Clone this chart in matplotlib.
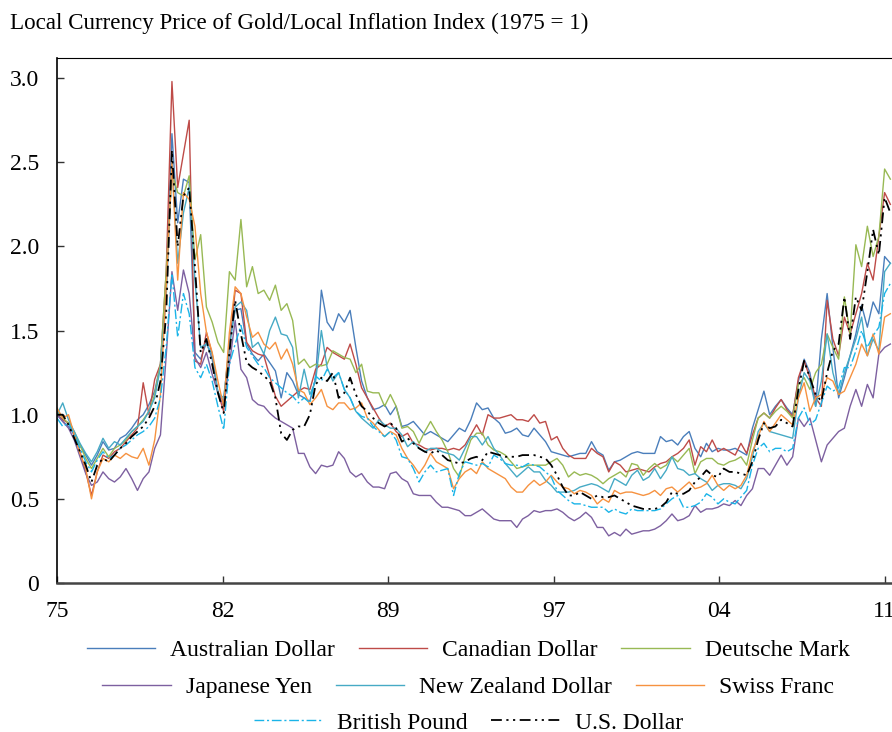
# -*- coding: utf-8 -*-

import numpy as np
from matplotlib import pyplot as plt

plt.rcParams['font.family'] = ['Liberation Serif', 'DejaVu Serif']

# quarterly observations, 1975Q1 .. 2011Q2
dates = 1975 + np.arange(146) / 4.0

aud = [1.00, 0.96, 0.93, 0.88, 0.82, 0.76, 0.70, 0.76, 0.84, 0.79,
       0.80, 0.86, 0.88, 0.92, 0.97, 1.00, 1.06, 1.14, 1.30, 1.75,
       2.67, 2.14, 2.40, 2.38, 1.37, 1.33, 1.43, 1.33, 1.13, 1.08,
       1.43, 1.62, 1.63, 1.42, 1.36, 1.32, 1.36, 1.31, 1.26, 1.10,
       1.25, 1.20, 1.12, 1.10, 1.08, 1.22, 1.74, 1.55, 1.50, 1.60,
       1.55, 1.62, 1.40, 1.20, 1.10, 1.03, 1.04, 1.06, 1.00, 1.05,
       0.93, 0.94, 0.96, 0.92, 0.88, 0.90, 0.88, 0.86, 0.84, 0.88,
       0.92, 0.90, 0.97, 1.07, 1.03, 1.04, 0.98, 0.95, 0.89, 0.90,
       0.92, 0.88, 0.87, 0.92, 0.88, 0.84, 0.78, 0.77, 0.76, 0.75,
       0.76, 0.77, 0.77, 0.84, 0.78, 0.76, 0.67, 0.72, 0.73, 0.75,
       0.77, 0.78, 0.77, 0.77, 0.77, 0.87, 0.84, 0.85, 0.82, 0.87,
       0.90, 0.80, 0.75, 0.83, 0.78, 0.80, 0.79, 0.79, 0.80, 0.78,
       0.76, 0.92, 1.03, 1.14, 1.00, 1.05, 1.09, 1.04, 1.00, 1.20,
       1.33, 1.25, 1.05, 1.45, 1.72, 1.40, 1.10, 1.22, 1.35, 1.48,
       1.65, 1.52, 1.67, 1.60, 1.94, 1.90]

cad = [1.00, 0.97, 0.95, 0.88, 0.78, 0.66, 0.52, 0.66, 0.76, 0.74,
       0.78, 0.80, 0.84, 0.88, 0.92, 1.19, 1.00, 1.21, 1.30, 1.85,
       2.98, 2.35, 2.55, 2.75, 1.32, 1.30, 1.49, 1.36, 1.13, 1.02,
       1.40, 1.74, 1.72, 1.43, 1.38, 1.36, 1.35, 1.23, 1.11, 1.05,
       1.08, 1.11, 1.14, 1.16, 1.15, 1.27, 1.30, 1.40, 1.37, 1.35,
       1.33, 1.42, 1.30, 1.16, 1.10, 1.04, 0.98, 0.93, 0.95, 0.90,
       0.87, 0.89, 0.83, 0.82, 0.80, 0.79, 0.80, 0.80, 0.79, 0.80,
       0.79, 0.82, 0.88, 0.94, 0.88, 1.00, 0.98, 0.98, 0.99, 1.00,
       0.97, 0.97, 0.96, 1.00, 0.95, 0.96, 0.85, 0.87, 0.80, 0.76,
       0.74, 0.74, 0.74, 0.80, 0.77, 0.75, 0.66, 0.72, 0.70, 0.66,
       0.67, 0.68, 0.67, 0.66, 0.69, 0.71, 0.72, 0.75, 0.77, 0.80,
       0.85, 0.70, 0.81, 0.78, 0.85, 0.78, 0.80, 0.78, 0.76, 0.83,
       0.77, 0.88, 0.98, 1.01, 0.98, 1.04, 1.09, 1.03, 0.99, 1.22,
       1.32, 1.22, 1.10, 1.05, 1.68, 1.45, 1.35, 1.58, 1.48, 1.60,
       1.72, 1.90, 1.80, 2.06, 2.32, 2.25]

dem = [1.02, 0.98, 0.95, 0.90, 0.82, 0.74, 0.68, 0.74, 0.80, 0.75,
       0.80, 0.82, 0.85, 0.90, 0.93, 0.97, 1.02, 1.12, 1.30, 1.85,
       2.44, 2.32, 2.30, 2.42, 1.92, 2.07, 1.64, 1.55, 1.43, 1.37,
       1.85, 1.80, 2.16, 1.76, 1.88, 1.72, 1.74, 1.68, 1.77, 1.62,
       1.66, 1.56, 1.30, 1.33, 1.28, 1.30, 1.29, 1.30, 1.38, 1.36,
       1.34, 1.33, 1.25, 1.30, 1.14, 1.13, 1.13, 1.05, 1.12, 1.05,
       0.92, 0.93, 0.90, 0.83, 0.90, 0.96, 0.90, 0.85, 0.78, 0.68,
       0.63, 0.75, 0.85, 0.89, 0.89, 0.82, 0.79, 0.78, 0.76, 0.72,
       0.68, 0.69, 0.70, 0.70, 0.70, 0.70, 0.72, 0.74, 0.70, 0.63,
       0.66, 0.64, 0.65, 0.64, 0.62, 0.59, 0.62, 0.64, 0.66, 0.63,
       0.71, 0.70, 0.64, 0.68, 0.71, 0.68, 0.70, 0.75, 0.72, 0.76,
       0.80, 0.65, 0.72, 0.74, 0.74, 0.71, 0.70, 0.72, 0.73, 0.75,
       0.70, 0.85, 0.98, 1.01, 0.98, 1.02, 1.05, 1.02, 0.98, 1.18,
       1.22, 1.15, 1.25, 1.30, 1.48, 1.40, 1.33, 1.70, 1.48, 2.01,
       1.88, 2.12, 1.94, 2.06, 2.46, 2.40]

jpy = [1.00, 0.96, 0.92, 0.85, 0.75, 0.65, 0.58, 0.60, 0.66, 0.62,
       0.60, 0.63, 0.68, 0.62, 0.55, 0.62, 0.66, 0.80, 0.88, 1.35,
       1.85, 1.62, 1.86, 1.72, 1.34, 1.28, 1.37, 1.24, 1.13, 1.05,
       1.30, 1.56, 1.27, 1.22, 1.09, 1.06, 1.05, 1.01, 0.98, 0.96,
       0.94, 0.92, 0.77, 0.77, 0.69, 0.65, 0.70, 0.69, 0.70, 0.78,
       0.74, 0.66, 0.63, 0.65, 0.60, 0.57, 0.57, 0.56, 0.65, 0.66,
       0.62, 0.60, 0.53, 0.52, 0.52, 0.52, 0.48, 0.45, 0.45, 0.44,
       0.43, 0.40, 0.40, 0.42, 0.44, 0.41, 0.38, 0.37, 0.37, 0.37,
       0.33, 0.38, 0.40, 0.43, 0.42, 0.43, 0.43, 0.44, 0.42, 0.39,
       0.37, 0.39, 0.42, 0.39, 0.33, 0.33, 0.28, 0.30, 0.28, 0.32,
       0.29, 0.30, 0.31, 0.31, 0.32, 0.34, 0.37, 0.41, 0.37, 0.38,
       0.40, 0.46, 0.42, 0.44, 0.44, 0.45, 0.47, 0.46, 0.49, 0.46,
       0.52, 0.56, 0.68, 0.68, 0.64, 0.70, 0.76, 0.70, 0.75, 0.98,
       0.93, 0.98, 0.85, 0.72, 0.82, 0.86, 0.90, 0.92, 1.05, 1.15,
       1.05, 1.18, 1.10, 1.36, 1.40, 1.42]

nzd = [1.00, 1.07, 0.97, 0.90, 0.83, 0.77, 0.72, 0.78, 0.86, 0.80,
       0.84, 0.82, 0.86, 0.90, 0.93, 0.96, 1.02, 1.10, 1.28, 1.70,
       2.50, 1.90, 2.20, 2.35, 1.80, 1.40, 1.42, 1.36, 1.13, 1.10,
       1.40, 1.64, 1.67, 1.62, 1.40, 1.43, 1.36, 1.50, 1.58, 1.48,
       1.47, 1.40, 1.10, 1.27, 1.12, 1.20, 1.50, 1.28, 1.20, 1.25,
       1.15, 1.10, 1.02, 0.98, 0.95, 0.92, 0.97, 0.94, 0.92, 0.92,
       0.88, 0.81, 0.84, 0.80, 0.78, 0.80, 0.80, 0.78, 0.77, 0.76,
       0.73, 0.80, 0.87, 0.87, 0.82, 0.87, 0.80, 0.76, 0.71, 0.67,
       0.63, 0.66, 0.69, 0.66, 0.66, 0.61, 0.58, 0.54, 0.54, 0.54,
       0.55, 0.57, 0.58, 0.59, 0.58, 0.56, 0.54, 0.62, 0.60, 0.58,
       0.64, 0.67, 0.61, 0.63, 0.68, 0.62, 0.67, 0.75, 0.68, 0.67,
       0.64, 0.65, 0.62, 0.60, 0.55, 0.58, 0.59, 0.59, 0.58, 0.56,
       0.62, 0.75, 0.90, 0.95, 0.90, 0.89, 0.88, 0.87, 0.86, 1.10,
       1.25, 1.20, 1.05, 1.20, 1.48, 1.25, 1.12, 1.25, 1.35, 1.45,
       1.58, 1.35, 1.45, 1.38, 1.85, 1.90]

chf = [1.04, 0.98, 1.00, 0.88, 0.77, 0.68, 0.50, 0.66, 0.74, 0.72,
       0.76, 0.74, 0.77, 0.75, 0.74, 0.80, 0.70, 0.85, 1.12, 1.75,
       2.50, 1.80, 2.32, 2.28, 2.12, 1.72, 1.49, 1.37, 1.20, 1.05,
       1.49, 1.76, 1.72, 1.58, 1.46, 1.49, 1.42, 1.39, 1.43, 1.33,
       1.39, 1.30, 1.15, 1.13, 1.06, 1.10, 1.15, 1.05, 1.03, 1.07,
       1.07, 1.03, 1.04, 1.07, 0.98, 0.95, 0.91, 0.87, 0.90, 0.88,
       0.80, 0.74, 0.70, 0.65, 0.70, 0.77, 0.72, 0.70, 0.68, 0.56,
       0.62, 0.66, 0.68, 0.65, 0.72, 0.68, 0.66, 0.64, 0.62, 0.57,
       0.54, 0.54, 0.58, 0.61, 0.58, 0.60, 0.64, 0.60, 0.57, 0.56,
       0.53, 0.55, 0.54, 0.52, 0.47, 0.50, 0.48, 0.55, 0.53, 0.54,
       0.54, 0.53, 0.52, 0.53, 0.55, 0.52, 0.56, 0.57, 0.54, 0.57,
       0.60, 0.56, 0.57, 0.59, 0.64, 0.58, 0.55, 0.58, 0.56, 0.58,
       0.64, 0.78, 0.87, 0.96, 0.90, 0.95, 1.00, 0.97, 0.94, 1.10,
       1.19, 1.02, 1.10, 1.12, 1.22, 1.20, 1.12, 1.14, 1.22, 1.30,
       1.42, 1.35, 1.48, 1.36, 1.58, 1.60]

gbp = [0.98, 0.93, 0.95, 0.88, 0.80, 0.72, 0.66, 0.73, 0.78, 0.74,
       0.76, 0.80, 0.82, 0.85, 0.88, 0.90, 0.93, 0.98, 1.10, 1.40,
       1.84, 1.46, 1.72, 1.60, 1.28, 1.22, 1.30, 1.20, 1.05, 0.91,
       1.30, 1.42, 1.53, 1.40, 1.35, 1.30, 1.28, 1.22, 1.19, 1.16,
       1.13, 1.11, 1.07, 1.10, 1.07, 1.23, 1.20, 1.27, 1.22, 1.25,
       1.15, 1.10, 1.02, 0.99, 0.98, 0.93, 0.90, 0.87, 0.90, 0.85,
       0.75, 0.74, 0.68, 0.60, 0.66, 0.70, 0.66, 0.67, 0.68, 0.52,
       0.65, 0.72, 0.71, 0.70, 0.71, 0.69, 0.76, 0.74, 0.71, 0.70,
       0.70, 0.69, 0.71, 0.70, 0.69, 0.66, 0.63, 0.55, 0.52, 0.49,
       0.47, 0.47, 0.46, 0.45, 0.45, 0.45, 0.42, 0.44, 0.42, 0.41,
       0.44, 0.43, 0.43, 0.43, 0.43, 0.44, 0.47, 0.50, 0.52, 0.45,
       0.45, 0.46, 0.48, 0.53, 0.51, 0.47, 0.50, 0.48, 0.47, 0.51,
       0.55, 0.70, 0.80, 0.83, 0.78, 0.80, 0.80, 0.78, 0.80, 0.98,
       1.04, 0.94, 0.97, 1.07, 1.17, 1.14, 1.16, 1.28, 1.28, 1.38,
       1.50, 1.40, 1.47, 1.52, 1.72, 1.78]

usd = [1.00, 1.00, 0.94, 0.86, 0.78, 0.70, 0.60, 0.70, 0.74, 0.72,
       0.76, 0.80, 0.83, 0.87, 0.90, 0.93, 0.98, 1.05, 1.20, 1.60,
       2.57, 2.00, 2.30, 2.35, 1.88, 1.37, 1.45, 1.30, 1.13, 1.01,
       1.37, 1.68, 1.48, 1.31, 1.28, 1.26, 1.23, 1.20, 1.10, 0.89,
       0.85, 0.91, 0.93, 0.93, 1.00, 1.18, 1.22, 1.20, 1.25, 1.10,
       1.13, 1.22, 1.12, 1.05, 1.02, 0.98, 0.95, 0.93, 0.95, 0.92,
       0.84, 0.86, 0.83, 0.80, 0.78, 0.77, 0.79, 0.76, 0.73, 0.72,
       0.71, 0.72, 0.74, 0.75, 0.73, 0.78, 0.77, 0.76, 0.75, 0.75,
       0.75, 0.76, 0.76, 0.76, 0.75, 0.74, 0.70, 0.64, 0.57, 0.52,
       0.52, 0.54, 0.52, 0.50, 0.52, 0.51, 0.51, 0.52, 0.50, 0.48,
       0.46, 0.45, 0.44, 0.44, 0.44, 0.45, 0.48, 0.54, 0.53, 0.53,
       0.55, 0.60, 0.63, 0.67, 0.64, 0.63, 0.68, 0.66, 0.66, 0.65,
       0.64, 0.72, 0.85, 0.95, 0.92, 0.93, 0.97, 0.95, 0.93, 1.15,
       1.32, 1.22, 1.12, 1.08, 1.25, 1.38, 1.42, 1.70, 1.45, 1.70,
       1.62, 1.85, 2.10, 1.95, 2.29, 2.20]

tick_years = [1975, 1982.2, 1989.4, 1996.6, 2003.8, 2011]
tick_labels = ['75', '82', '89', '97', '04', '11']

series = [
    ('Australian Dollar', aud, '#4A7EBB', '-'),
    ('Canadian Dollar', cad, '#BE4B48', '-'),
    ('Deutsche Mark', dem, '#98B954', '-'),
    ('Japanese Yen', jpy, '#7D60A0', '-'),
    ('New Zealand Dollar', nzd, '#46AAC5', '-'),
    ('Swiss Franc', chf, '#F69240', '-'),
    ('British Pound', gbp, '#1AB4E8', (0, (7, 2, 1.5, 2))),
    ('U.S. Dollar', usd, 'black', (0, (6, 2.5, 1.2, 2.5, 1.2, 2.5))),
]

fig = plt.figure(figsize=(8.92, 7.32), dpi=100)
ax = fig.add_axes([0.0639, 0.2036, 0.9407, 0.7172])

lines = []
for name, vals, color, ls in series:
    lw = 1.3 if color == 'black' else 1.0
    ln, = ax.plot(dates, vals, color=color, linestyle=ls, lw=lw, label=name)
    lines.append(ln)

ax.set_xlim(1975, 2011.5)
ax.set_ylim(0, 3.12)
ax.set_xticks(tick_years)
ax.set_xticklabels(tick_labels)
ax.set_yticks([0, 0.5, 1.0, 1.5, 2.0, 2.5, 3.0])
ax.set_yticklabels(['0', '0.5', '1.0', '1.5', '2.0', '2.5', '3.0'])
ax.tick_params(direction='in', length=5, width=1, labelsize=17, color='#333333')
ax.tick_params(axis='x', pad=13)
ax.tick_params(axis='y', pad=13)
ax.spines['right'].set_visible(False)
ax.spines['top'].set_linewidth(0.8)
ax.spines['left'].set_linewidth(1.2)
ax.spines['bottom'].set_linewidth(1.8)
ax.spines['bottom'].set_color('#444444')

fig.text(0.011, 1 - 29 / 732, 'Local Currency Price of Gold/Local Inflation Index (1975 = 1)',
         fontsize=16.6, va='baseline', ha='left')

legend_kw = dict(loc='center', frameon=False, fontsize=17, handlelength=2.9,
                 handletextpad=0.64, columnspacing=1.0, borderpad=0)
rows = [(lines[0:3], 0.112), (lines[3:6], 0.0605), (lines[6:8], 0.0125)]
for handles, y in rows:
    fig.legend(handles=handles, ncol=len(handles), bbox_to_anchor=(0.525, y), **legend_kw)

fig.savefig('out.png', dpi=100)
